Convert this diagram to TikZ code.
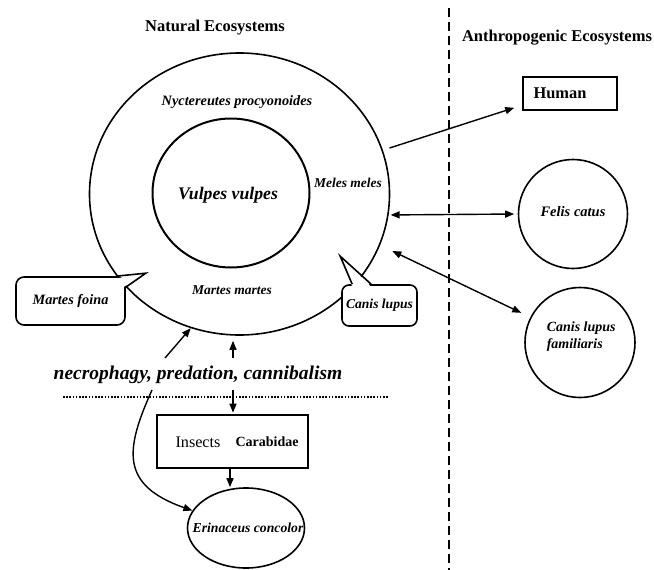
\documentclass[tikz,border=0pt]{standalone}
\usepackage{fontspec}
\setmainfont{Liberation Serif}
\usetikzlibrary{shapes.geometric,arrows.meta,calc}
\newcommand\myfs[1]{\fontsize{#1}{#1}\selectfont}
\begin{document}
\begin{tikzpicture}[x=1pt,y=-1pt,
  line width=1.5pt,
  arr/.style={-{Triangle[length=9pt,width=7pt]}, line width=1.4pt},
  darr/.style={{Triangle[length=9pt,width=7pt]}-{Triangle[length=9pt,width=7pt]}, line width=1.4pt},
  bi/.style={inner sep=0pt, font=\bfseries\itshape},
  ell/.style={draw, ellipse, inner sep=0pt, line width=1.6pt},
  sqbox/.style={draw, rectangle, inner sep=0pt, line width=1.6pt},
  callbox/.style={draw, rectangle, rounded corners=8pt, inner sep=0pt, line width=1.6pt, fill=white},
  ]
\useasboundingbox (0,0) rectangle (654,570);
% separators
\coordinate (v1) at (449,8);
\coordinate (v2) at (449,570);
\draw[line width=2pt, dash pattern=on 9pt off 5pt] (v1) -- (v2);
\coordinate (d1) at (63,397);
\coordinate (d2) at (388,397);
\draw[line width=1.6pt, dash pattern=on 1.6pt off 1.6pt] (d1) -- (d2);
% headings
\node[inner sep=0pt, font=\myfs{16.5}\bfseries] (nat) at (215,28) {Natural Ecosystems};
\node[inner sep=0pt, font=\myfs{16.5}\bfseries] (ant) at (557,38) {Anthropogenic Ecosystems};
% main circles
\node[ell, minimum width=300pt, minimum height=282pt] (outer) at (239.5,194) {};
\node[ell, minimum width=157pt, minimum height=149pt, line width=2pt] (inner) at (231,193) {};
\node[bi, font=\myfs{17.7}\bfseries\itshape] (vv) at (228,195) {Vulpes vulpes};
\node[bi, font=\myfs{14.3}\bfseries\itshape] (nyc) at (237,102) {Nyctereutes procyonoides};
\node[bi, font=\myfs{13.5}\bfseries\itshape] (mel) at (348,183) {Meles meles};
\node[bi, font=\myfs{13.5}\bfseries\itshape] (mm) at (232,290) {Martes martes};
% callouts
\node[callbox, minimum width=109pt, minimum height=48pt, font=\myfs{14.3}\bfseries\itshape] (mf) at (70.5,301) {Martes foina};
\coordinate (mft) at ([shift={(20pt,3pt)}]mf.north east);
\coordinate (mfa) at ([xshift=-10pt]mf.north east);
\coordinate (mfb) at ([yshift=-11pt]mf.north east);
\fill[white] ($(mfa)+(0,2.5)$) -- (mft) -- ($(mfb)+(-2.5,0)$) -- cycle;
\draw[line width=1.6pt, line join=miter] (mfa) -- (mft) -- (mfb);
\node[callbox, rounded corners=7pt, minimum width=75pt, minimum height=41pt, font=\myfs{13.6}\bfseries\itshape] (cl) at (379.5,305.5) {Canis lupus};
\coordinate (clt) at ([shift={(-1pt,28pt)}]cl.north west);
\coordinate (cla) at ([xshift=11pt]cl.north west);
\coordinate (clb) at ([xshift=30pt]cl.north west);
\fill[white] ($(cla)+(0,2.5)$) -- (clt) -- ($(clb)+(0,2.5)$) -- cycle;
\draw[line width=1.6pt, line join=miter] (cla) -- (clt) -- (clb);
% anthropogenic side
\node[sqbox, minimum width=94pt, minimum height=33pt] (human) at (570,93.5) {};
\node[inner sep=0pt, font=\myfs{16.4}\bfseries] (humt) at (560,93) {Human};
\node[ell, minimum width=109pt, minimum height=109pt] (felis) at (573,214) {};
\node[bi, font=\myfs{14.5}\bfseries\itshape] (felt) at (573,212) {Felis catus};
\node[ell, minimum width=110pt, minimum height=110pt] (clf) at (580,342.5) {};
\node[bi, anchor=west, align=left, font=\myfs{14}\bfseries\itshape, execute at begin node=\setlength{\baselineskip}{17pt}] (clft) at (546,337) {Canis lupus\\familiaris};
% lower part
\node[bi, font=\myfs{19.5}\bfseries\itshape] (nec) at (198,375) {necrophagy, predation, cannibalism};
\node[sqbox, minimum width=151pt, minimum height=53pt] (ins) at (232.5,441.5) {};
\node[inner sep=0pt, font=\myfs{16.2}] (inst) at (198,442) {Insects};
\node[inner sep=0pt, font=\myfs{14}\bfseries] (cart) at (267,442) {Carabidae};
\node[ell, minimum width=117pt, minimum height=80pt] (erin) at (246,528) {};
\node[bi, font=\myfs{13.7}\bfseries\itshape] (erit) at (248,528) {Erinaceus concolor};
% connectors
\draw[arr, shorten <=7pt] (outer.17) -- ([shift={(-8pt,3pt)}]human.south west);
\draw[darr, shorten <=2pt, shorten >=3.5pt] (outer.-8) -- (felis.west);
\draw[darr, shorten <=13.5pt, shorten >=10pt] (outer.-20) -- (clf.153);
\coordinate (n1) at (165,358);
\coordinate (n2) at (233,358);
\coordinate (n3) at (233,390);
\coordinate (n4) at (152,390);
\draw[arr] (n1) -- (outer.-110);
\draw[arr, shorten >=5pt] (n2) -- (n2 |- outer.south);
\draw[arr, shorten >=1.5pt] (n3) -- (n3 |- ins.north);
\draw[arr] (ins.south -| 230,0) -- (erin.north -| 230,0);
\draw[arr] (n4) .. controls (125,450) and (120,485) .. (erin.162);
\end{tikzpicture}
\end{document}
